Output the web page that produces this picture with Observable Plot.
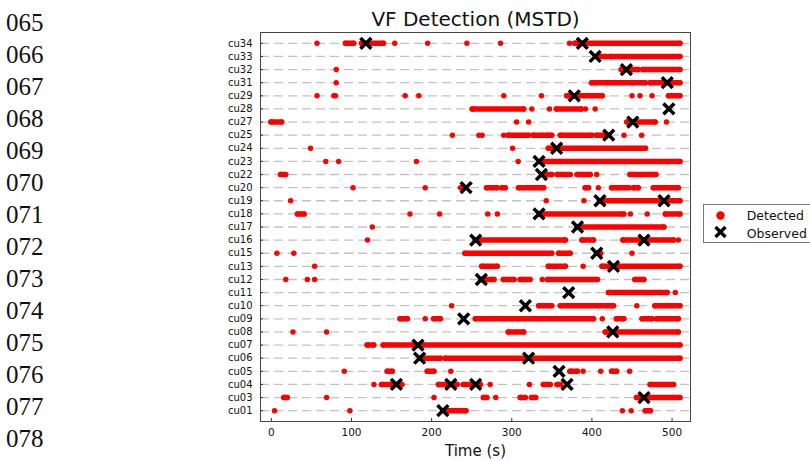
<!DOCTYPE html>
<html><head><meta charset="utf-8">
<script src="https://cdn.jsdelivr.net/npm/d3@7"></script>
<script src="https://cdn.jsdelivr.net/npm/@observablehq/plot@0.6"></script>
<style>
body{margin:0;background:#fff;}
#wrap{position:relative;width:810px;height:461px;overflow:hidden;}
#overlay{position:absolute;left:0;top:0;pointer-events:none;}
</style></head><body><div id="wrap"></div>
<script>
// ---- data ----
const units = ["cu34","cu33","cu32","cu31","cu29","cu28","cu27","cu25","cu24","cu23","cu22","cu20","cu19","cu18","cu17","cu16","cu15","cu13","cu12","cu11","cu10","cu09","cu08","cu07","cu06","cu05","cu04","cu03","cu01"];
// detected times per unit (s): single values or runs "start-end"
const detectedRuns = [
  "57 93-103 113-140 154 195 244 286 372 379-510",
  "408-418 423-510",
  "81 437-449 451-458 464-510",
  "81 400-467 473-510",
  "57 78 80 167 184 290 337 369-413 450 460 475 496-510",
  "251-315 325 347 356-387 392 404",
  "0-13 306 321 444-479 493",
  "226 259 263 290 296-321 327-340 344-350 361-400 406-415 440 462",
  "49 301 346-467",
  "68 84 181 308 336-510",
  "12-18 344-350 357-373 382-398 406 448-463 467-480",
  "102 192 236 269-282 288-292 309-340 392-396 408 425-446 452-458 477-508",
  "24 343 390 410-510",
  "33-41 173 210 270 282 335-440 448 469 492-510",
  "126 382-490",
  "120 255-367 388-402 439-502 508",
  "7 28 242-350 359-373 406-411 450",
  "54 263-282 346-367 389 413-510",
  "18 45 54 262-278 290-303 311-323 338 345-407 454-465",
  "421-494 504",
  "225 334-350 361-427 456 479-510",
  "161-170 192 203-211 255-402 413 431-440 463-475 481-508",
  "27 69 296-315 417-508",
  "120-128 140-510",
  "186-211 217-510",
  "91 145-151 195-203 224 373-382 389 411 425-431 447",
  "128 138-163 209-232 240-261 273 322 340-348 357-361 473-502",
  "16-20 69 203 265-269 280 311-317 325-330 456-510",
  "4 98 219-243 438 449 467-473"
];
// observed onset times per unit (s)
const observedTimes = [
  [118,388],[404],[443],[494],[378],[496],[451],[421],[356],[334],
  [337],[243],[410,490],[334],[382],[255,465],[406],[427],[262],[371],
  [317],[240],[426],[183],[185,321],[359],[156,224,255,369],[465],[214]
];
const xTicks = [0,100,200,300,400,500];
const lineNumbers = ["065","066","067","068","069","070","071","072","073","074","075","076","077","078"];
const chartTitle = "VF Detection (MSTD)";
const xLabel = "Time (s)";
const legendLabels = ["Detected","Observed"];

// ---- build tables ----
const runs = [];
units.forEach((u,i)=>{
  detectedRuns[i].split(/\s+/).filter(Boolean).forEach(tok=>{
    const [a,b] = tok.split("-").map(Number);
    runs.push({unit:u, start:a, end: b===undefined ? a : b});
  });
});
const points = runs.flatMap(r => r.start===r.end ? [{unit:r.unit,t:r.start}] : [{unit:r.unit,t:r.start},{unit:r.unit,t:r.end}]);
const segs = runs.filter(r => r.end > r.start);
const observed = units.flatMap((u,i)=>observedTimes[i].map(t=>({unit:u,t})));

const chart = Plot.plot({
  width: 810, height: 461,
  marginLeft: 260, marginRight: 120, marginTop: 32, marginBottom: 40,
  style: {fontFamily: "'DejaVu Sans', sans-serif", background: "white", color: "#111"},
  x: {domain: [-13.5, 523]},
  y: {type: "point", domain: units, padding: 0.825, round: false},
  marks: [
    Plot.gridY(units, {y: d=>d, stroke: "#c2c2c2", strokeOpacity: 1, strokeWidth: 1.3, strokeDasharray: "9,5"}),
    Plot.ruleY(segs, {y: "unit", x1: "start", x2: "end", stroke: "#ff0000", strokeWidth: 5.5, strokeLinecap: "round"}),
    Plot.dot(points, {x: "t", y: "unit", r: 2.75, fill: "#ff0000"}),
    Plot.dot(observed, {x: "t", y: "unit", symbol: "times", r: 5, stroke: "#000", strokeWidth: 3.5}),
    Plot.tickY(units, {y: d=>d, stroke: "#333", insetRight: 427}),
    Plot.tickX(xTicks, {x: d=>d, stroke: "#333", insetTop: 386}),
    Plot.frame({stroke: "#444"}),
    Plot.axisY({tickSize: 0, tickPadding: 8, fontSize: 10, label: null}),
    Plot.axisX(xTicks, {tickSize: 0, tickPadding: 7, fontSize: 10.5, label: null}),
    Plot.text([chartTitle], {frameAnchor: "top", lineAnchor: "bottom", dy: -7, fontSize: 20}),
    Plot.text([xLabel], {frameAnchor: "bottom", lineAnchor: "bottom", dy: 34, fontSize: 15})
  ]
});
const wrap = document.getElementById("wrap");
wrap.appendChild(chart);

// ---- overlay: page line numbers and legend ----
const ov = d3.select(wrap).append("svg").attr("id","overlay").attr("width",810).attr("height",461);
ov.selectAll("text.ln").data(lineNumbers).join("text").attr("class","ln")
  .attr("x", 6).attr("y", (d,i)=>31.2 + 32*i)
  .attr("font-family","'Liberation Serif', serif").attr("font-size",25).attr("fill","#111").text(d=>d);
const lg = ov.append("g").attr("font-family","'DejaVu Sans', sans-serif").attr("font-size",12.5);
lg.append("rect").attr("x",703.5).attr("y",204.5).attr("width",120).attr("height",38).attr("fill","#fff").attr("stroke","#777");
lg.append("circle").attr("cx",720.5).attr("cy",215.5).attr("r",4.2).attr("fill","#ff0000");
lg.append("path").attr("d","M715.5,227L725.5,237M715.5,237L725.5,227").attr("stroke","#000").attr("stroke-width",3.3);
lg.selectAll("text.lt").data(legendLabels).join("text").attr("class","lt")
  .attr("x",746.7).attr("y",(d,i)=>220 + 17.7*i).attr("fill","#111").text(d=>d);
</script></body></html>
